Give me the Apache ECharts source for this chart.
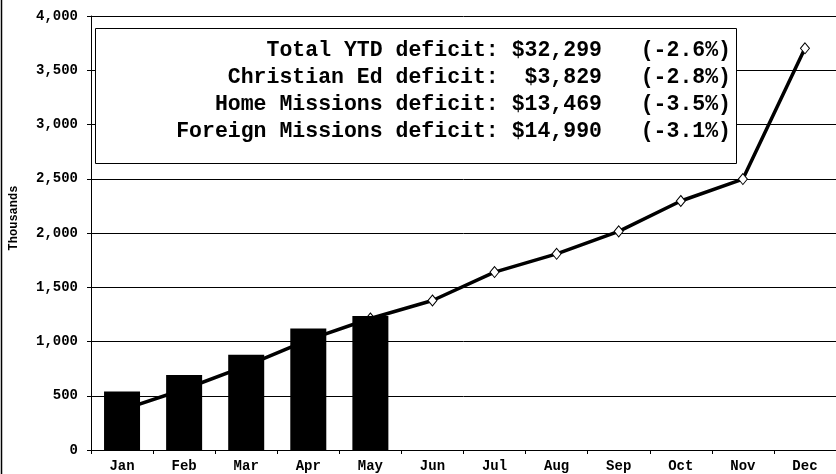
<!DOCTYPE html>
<html>
<head>
<meta charset="utf-8">
<script src="https://cdn.jsdelivr.net/npm/echarts@6/dist/echarts.min.js"></script>
<style>
html,body{margin:0;padding:0;background:#fff;}
#chart{width:836px;height:474px;}
</style>
</head>
<body>
<div id="chart"></div>
<script>
var months = ['Jan','Feb','Mar','Apr','May','Jun','Jul','Aug','Sep','Oct','Nov','Dec'];
var actualValues = [540, 692, 878, 1120, 1235];
var budgetValues = [370, 560, 775, 1015, 1212, 1378, 1640, 1808, 2015, 2295, 2497, 3702];
var yTicks = [0, 500, 1000, 1500, 2000, 2500, 3000, 3500, 4000];
var deficitNames = ['Total YTD deficit:', 'Christian Ed deficit:', 'Home Missions deficit:', 'Foreign Missions deficit:'];
var deficitAmounts = ['$32,299', '$3,829', '$13,469', '$14,990'];
var deficitPercents = ['(-2.6%)', '(-2.8%)', '(-3.5%)', '(-3.1%)'];
var yAxisName = 'Thousands';

var FONT = '"Liberation Mono", "Courier New", monospace';
var boxLines = deficitNames.map(function (n, i) {
  return n + ' ' + deficitAmounts[i].padStart(7, ' ') + '   ' + deficitPercents[i];
});

var chart = echarts.init(document.getElementById('chart'), null, {renderer: 'canvas'});
chart.setOption({
  animation: false,
  backgroundColor: '#ffffff',
  grid: {left: 91, top: 16, width: 748, height: 434, containLabel: false},
  xAxis: {
    type: 'category',
    data: months,
    boundaryGap: true,
    axisLine: {lineStyle: {color: '#000', width: 1}},
    axisTick: {show: true, length: 4, lineStyle: {color: '#000'}},
    axisLabel: {color: '#000', fontFamily: FONT, fontWeight: 'bold', fontSize: 14, margin: 9}
  },
  yAxis: {
    type: 'value',
    min: yTicks[0],
    max: yTicks[yTicks.length - 1],
    interval: yTicks[1] - yTicks[0],
    axisLine: {show: true, lineStyle: {color: '#000', width: 1}},
    axisTick: {show: true, length: 4, lineStyle: {color: '#000'}},
    splitLine: {show: true, lineStyle: {color: '#000', width: 1}},
    axisLabel: {
      color: '#000', fontFamily: FONT, fontWeight: 'bold', fontSize: 14, margin: 13,
      formatter: function (v) { return v.toLocaleString('en-US'); }
    }
  },
  series: [
    {
      type: 'line',
      data: budgetValues,
      lineStyle: {color: '#000', width: 3.5},
      symbol: 'diamond',
      symbolSize: [9, 11],
      itemStyle: {color: '#fff', borderColor: '#000', borderWidth: 1},
      z: 2
    },
    {
      type: 'bar',
      data: actualValues,
      barWidth: 36,
      itemStyle: {color: '#000'},
      z: 3
    }
  ],
  graphic: [
    {
      type: 'line',
      shape: {x1: 1.5, y1: 0, x2: 1.5, y2: 474},
      style: {stroke: '#000', lineWidth: 1.5},
      z: 10
    },
    {
      type: 'text',
      x: 14, y: 218,
      rotation: Math.PI / 2,
      style: {
        text: yAxisName,
        fill: '#000',
        font: 'bold 12px ' + FONT,
        textAlign: 'center',
        textVerticalAlign: 'middle'
      },
      z: 10
    },
    {
      type: 'rect',
      shape: {x: 95.5, y: 28.5, width: 641, height: 135},
      style: {fill: '#fff', stroke: '#000', lineWidth: 1},
      z: 10
    },
    {
      type: 'text',
      x: 731, y: 37.5,
      style: {
        text: boxLines.join('\n'),
        fill: '#000',
        font: 'bold 21.5px ' + FONT,
        textAlign: 'right',
        textVerticalAlign: 'top',
        lineHeight: 27
      },
      z: 11
    }
  ]
});
</script>
</body>
</html>
